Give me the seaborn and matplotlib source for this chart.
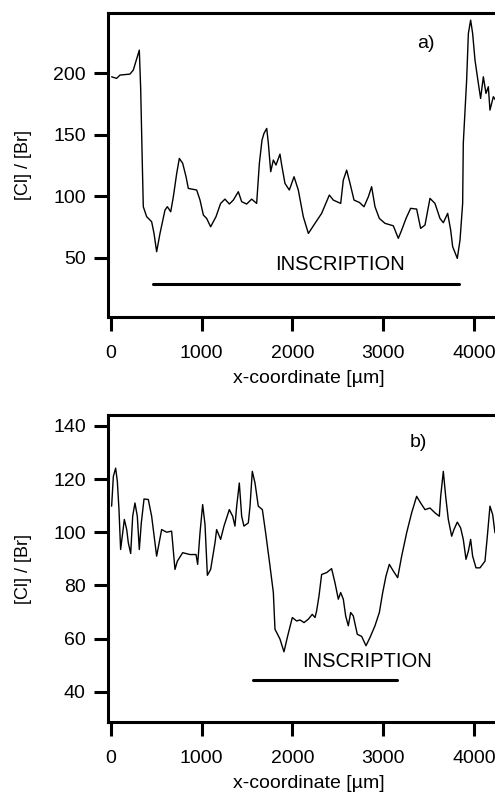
import matplotlib
matplotlib.use("Agg")
import matplotlib.pyplot as plt
import seaborn as sns
import pandas as pd

# ---- data (a) ----
xa = [7, 62, 99, 209, 246, 312, 327, 345, 356, 393, 448, 474, 503, 540, 595, 621, 658, 687,
      724, 753, 790, 827, 852, 944, 981, 1018, 1054, 1098, 1157, 1208, 1256, 1304, 1348, 1403,
      1440, 1495, 1550, 1605, 1635, 1664, 1686, 1716, 1734, 1760, 1789, 1818, 1862, 1881, 1917,
      1965, 2017, 2064, 2119, 2175, 2248, 2321, 2406, 2450, 2531, 2560, 2597, 2634, 2678, 2737,
      2788, 2836, 2872, 2909, 2957, 3019, 3111, 3166, 3203, 3251, 3302, 3368, 3412, 3460, 3515,
      3570, 3625, 3662, 3710, 3743, 3765, 3816, 3846, 3875, 3882, 3919, 3938, 3963, 3985, 4011,
      4048, 4073, 4103, 4132, 4158, 4176, 4213, 4240]
ya = [197.2, 195.9, 198.6, 199.4, 202.7, 218.9, 187.8, 126.8, 91.5, 83.4, 79.3, 69.8, 54.9, 69.8,
      88.8, 91.5, 87.4, 99.6, 118.6, 130.8, 126.8, 115.9, 106.4, 105.1, 96.9, 84.7, 82.0, 75.2,
      83.4, 94.2, 97.7, 93.7, 96.9, 103.7, 95.6, 93.7, 97.7, 94.2, 126.8, 145.7, 151.2, 155.2,
      143.0, 120.0, 129.5, 125.4, 134.3, 125.4, 110.5, 105.1, 115.9, 105.1, 83.4, 69.8, 78.0,
      86.1, 101.0, 96.9, 94.2, 113.2, 121.3, 110.5, 96.9, 95.0, 91.5, 99.6, 107.8, 91.5, 82.0,
      78.0, 76.0, 65.8, 72.5, 82.0, 90.2, 89.6, 73.9, 76.6, 98.3, 94.2, 82.0, 78.5, 86.1, 72.5,
      59.0, 49.5, 64.4, 94.2, 143.0, 194.5, 232.5, 243.3, 232.5, 210.8, 191.8, 179.6, 197.2,
      183.7, 189.1, 170.1, 181.0, 178.0]

# ---- data (b) ----
xb = [7, 26, 51, 70, 88, 106, 129, 147, 173, 191, 217, 239, 264, 290, 312, 334, 364, 411, 448,
      503, 558, 613, 668, 705, 731, 790, 871, 937, 955, 981, 1010, 1036, 1062, 1098, 1146, 1164,
      1208, 1245, 1304, 1341, 1366, 1385, 1414, 1440, 1465, 1513, 1532, 1557, 1587, 1623, 1668,
      1704, 1752, 1789, 1807, 1862, 1906, 1947, 1998, 2046, 2083, 2127, 2175, 2218, 2248, 2266,
      2292, 2321, 2376, 2431, 2468, 2505, 2531, 2560, 2586, 2615, 2641, 2670, 2714, 2762, 2810,
      2854, 2909, 2957, 2994, 3030, 3067, 3111, 3159, 3203, 3258, 3313, 3368, 3412, 3460, 3515,
      3570, 3618, 3633, 3662, 3688, 3717, 3754, 3779, 3816, 3853, 3882, 3912, 3938, 3963, 3985,
      4022, 4066, 4121, 4147, 4176, 4206, 4231]
yb = [109.8, 121.0, 124.1, 119.1, 108.5, 93.5, 99.8, 104.8, 101.0, 96.0, 92.0, 106.0, 111.0,
      106.0, 93.5, 103.5, 112.5, 112.3, 106.0, 91.0, 101.0, 100.0, 100.4, 86.0, 89.1, 92.3, 91.6,
      91.6, 87.9, 99.8, 110.4, 102.9, 83.8, 86.0, 96.0, 101.0, 97.3, 102.3, 108.5, 106.0, 102.3,
      109.8, 118.5, 106.0, 102.3, 103.5, 109.8, 122.9, 118.5, 109.8, 108.5, 99.8, 87.3, 77.3,
      63.5, 59.8, 55.0, 61.0, 67.9, 66.6, 67.0, 66.0, 67.3, 69.1, 67.9, 70.4, 76.0, 84.1, 84.8,
      86.3, 81.0, 74.8, 77.3, 74.8, 68.5, 64.8, 69.8, 68.5, 61.6, 60.8, 57.3, 60.4, 64.8, 69.8,
      77.3, 83.5, 87.9, 85.4, 82.9, 91.0, 99.8, 107.3, 113.5, 111.0, 108.5, 109.1, 107.3, 106.0,
      113.5, 122.9, 113.5, 104.8, 98.5, 101.0, 103.8, 101.6, 97.3, 89.8, 92.9, 97.3, 91.0, 86.6,
      86.6, 89.1, 98.5, 109.8, 106.6, 99.8]

xticks = [0, 1000, 2000, 3000, 4000]
yticks_a = [50, 100, 150, 200]
yticks_b = [40, 60, 80, 100, 120, 140]
insc_a = [463, 3835]
insc_b = [1565, 3152]
x_label = "x-coordinate [µm]"
y_label = "[Cl] / [Br]"

sns.set_theme(style="ticks")
plt.rcParams['font.family'] = ['Liberation Sans', 'DejaVu Sans']
plt.rcParams['text.color'] = 'black'
plt.rcParams['axes.labelcolor'] = 'black'

fig = plt.figure(figsize=(4.95, 7.96), dpi=100)
W, H = 495, 796

def make_axes(top_px, bot_px):
    left = 108 / W
    width = (4400 + 33) * 0.09075 / W
    return fig.add_axes([left, (H - bot_px) / H, width, (bot_px - top_px) / H])

ax1 = make_axes(13, 317)
ax2 = make_axes(415, 722)

df_a = pd.DataFrame({"x": xa, "y": ya})
df_b = pd.DataFrame({"x": xb, "y": yb})
sns.lineplot(data=df_a, x="x", y="y", ax=ax1, color="black", linewidth=1.0)
sns.lineplot(data=df_b, x="x", y="y", ax=ax2, color="black", linewidth=1.0)

for ax, yt, ylim in [(ax1, yticks_a, (1.8, 249.1)), (ax2, yticks_b, (28.6, 144.1))]:
    ax.set_xlim(-33, 4400)
    ax.set_ylim(*ylim)
    ax.set_xticks(xticks)
    ax.set_yticks(yt)
    ax.set_xlabel(x_label, fontsize=14, labelpad=6, color="black")
    ax.set_ylabel(y_label, fontsize=13, labelpad=15, color="black")
    for s in ax.spines.values():
        s.set_linewidth(2.2)
        s.set_color("black")
    ax.tick_params(axis="both", direction="out", length=10, width=2.2, labelsize=14,
                   colors="black")
    ax.tick_params(axis="x", pad=10)
    ax.tick_params(axis="y", pad=6)
    ax.grid(False)

ax1.plot(insc_a, [29, 29], color="black", linewidth=2.2)
ax1.text(2523, 44.3, "INSCRIPTION", fontsize=14.5, ha="center", va="center", color="black")
ax1.text(3471, 224.6, "a)", fontsize=14, ha="center", va="center", color="black")

ax2.plot(insc_b, [44.4, 44.4], color="black", linewidth=2.2)
ax2.text(2821, 51.5, "INSCRIPTION", fontsize=14.5, ha="center", va="center", color="black")
ax2.text(3383, 133.6, "b)", fontsize=14, ha="center", va="center", color="black")

fig.savefig("out.png", dpi=100)
